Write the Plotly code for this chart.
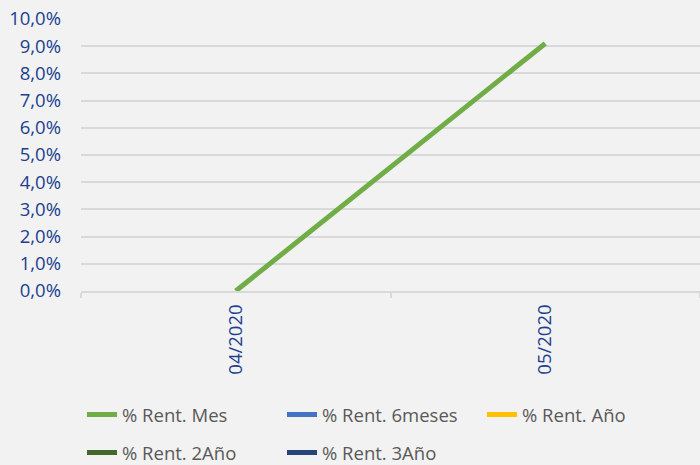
import plotly.graph_objects as go

categories = ["04/2020", "05/2020"]
series_names = ["% Rent. Mes", "% Rent. 6meses", "% Rent. Año", "% Rent. 2Año", "% Rent. 3Año"]
rent_mes = [0.0, 0.091]
rent_6meses = [None, None]
rent_anio = [None, None]
rent_2anio = [None, None]
rent_3anio = [None, None]
y_ticks = [i / 100 for i in range(0, 11)]
y_tick_labels = ["0,0%", "1,0%", "2,0%", "3,0%", "4,0%", "5,0%", "6,0%", "7,0%", "8,0%", "9,0%", "10,0%"]

colors = ["#70AD47", "#4472C4", "#FFC000", "#43682B", "#264478"]
values = [rent_mes, rent_6meses, rent_anio, rent_2anio, rent_3anio]
legend_ids = ["legend", "legend", "legend", "legend2", "legend2"]

fig = go.Figure()
for name, vals, col, lg in zip(series_names, values, colors, legend_ids):
    fig.add_trace(go.Scatter(x=categories, y=vals, name=name, mode="lines",
                             line=dict(color=col, width=5), connectgaps=False, legend=lg))

W, H = 700, 465
ml, mt, mb, mr = 81, 19, 174, 0
plot_h = H - mt - mb
plot_w = W - ml - mr


def px_to_paper_y(py):
    return (H - mb - py) / plot_h


def px_to_paper_x(px):
    return (px - ml) / plot_w


legend_common = dict(orientation="h", xanchor="left", yanchor="middle",
                     font=dict(size=18.5, color="#595959"), entrywidth=155, entrywidthmode="pixels",
                     bgcolor="rgba(0,0,0,0)", itemwidth=30)

fig.update_layout(
    width=W, height=H,
    paper_bgcolor="#F2F2F2", plot_bgcolor="#F2F2F2",
    margin=dict(l=ml, r=mr, t=mt, b=mb, autoexpand=False),
    font=dict(family="Open Sans, Liberation Sans, sans-serif", size=18.5, color="#595959"),
    showlegend=True,
    legend=dict(x=px_to_paper_x(82), y=px_to_paper_y(415), **legend_common),
    legend2=dict(x=px_to_paper_x(82), y=px_to_paper_y(453), **legend_common),
)
fig.update_xaxes(type="category", range=[-0.5, 1.5], tickangle=-90,
                 tickfont=dict(size=18.5, color="#203F8F"),
                 showline=True, linecolor="#D9D9D9", linewidth=2,
                 ticks="outside", tickson="boundaries", ticklen=5, tickcolor="#D9D9D9", tickwidth=2,
                 showgrid=False, zeroline=False, ticklabelstandoff=4)
fig.update_yaxes(range=[0, 0.1], tickvals=y_ticks, ticktext=y_tick_labels,
                 tickfont=dict(size=18.5, color="#203F8F"),
                 showgrid=True, gridcolor="#D9D9D9", gridwidth=2,
                 zeroline=False, showline=False, ticks="", ticklabelstandoff=19,
                 ticklabeloverflow="allow")

fig.write_html(
    "out.html",
    config={"displayModeBar": False},
    post_script="document.body.style.margin='0';document.body.style.background='#F2F2F2';",
)
